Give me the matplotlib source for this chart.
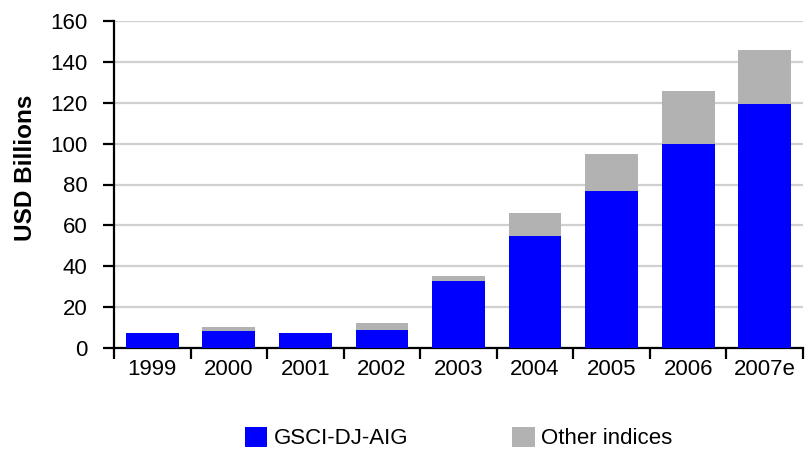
import matplotlib.pyplot as plt
import numpy as np

plt.rcParams['font.family'] = ['Liberation Sans', 'DejaVu Sans']

years = ["1999", "2000", "2001", "2002", "2003", "2004", "2005", "2006", "2007e"]
gsci_djaig = [7.2, 8.1, 7.2, 9.0, 32.8, 54.9, 77.0, 99.8, 119.5]
other_totals = [7.2, 10.5, 7.2, 12.0, 35.2, 66.0, 94.8, 125.9, 145.7]   # top of stacked bar
other = [t - b for t, b in zip(other_totals, gsci_djaig)]

fig = plt.figure(figsize=(8.06, 4.5), dpi=100)
ax = fig.add_axes([114 / 806, 1 - 348 / 450, 689 / 806, 327 / 450])

x = np.arange(len(years))
ax.bar(x, gsci_djaig, width=0.69, color="#0000FF", label="GSCI-DJ-AIG", zorder=3)
ax.bar(x, other, width=0.69, bottom=gsci_djaig, color="#B2B2B2", label="Other indices", zorder=3)

ax.set_xlim(-0.5, len(years) - 0.5)
ax.set_ylim(0, 160)
ax.set_yticks(range(0, 161, 20))
ax.grid(axis="y", color="#D0D0D0", linewidth=1.6, zorder=0)

# boundary ticks between categories, labels centred on the bars
ax.set_xticks(np.arange(len(years) + 1) - 0.5)
ax.set_xticklabels([])
ax.set_xticks(x, minor=True)
ax.set_xticklabels(years, minor=True)
ax.tick_params(axis="x", which="major", length=8, width=1.6, direction="out")
ax.tick_params(axis="x", which="minor", length=0, pad=8, labelsize=16)
ax.tick_params(axis="y", length=8, width=1.6, pad=11, labelsize=16)

for side in ("top", "right"):
    ax.spines[side].set_visible(False)
for side in ("left", "bottom"):
    ax.spines[side].set_linewidth(1.6)

ax.set_ylabel("USD Billions", fontsize=17.5, fontweight="bold")
ax.yaxis.set_label_coords(-0.112, 0.552)

ax.legend(loc="center", bbox_to_anchor=(0.5, -0.275), ncol=2, frameon=False,
          fontsize=16, handlelength=1.0, handleheight=1.0, handletextpad=0.3,
          columnspacing=4.7, borderpad=0)

fig.savefig("out.png", dpi=100)
